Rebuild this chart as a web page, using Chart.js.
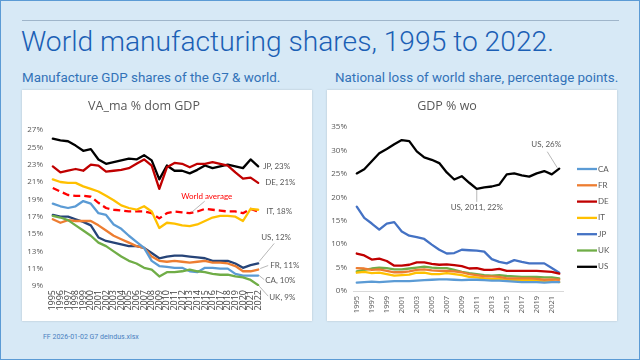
<!DOCTYPE html>
<html>
<head>
<meta charset="utf-8">
<script src="https://cdn.jsdelivr.net/npm/chart.js@4.4.1/dist/chart.umd.min.js"></script>
<style>
  html, body { margin: 0; padding: 0; }
  body { width: 640px; height: 360px; background: #d7e9f6; position: relative; overflow: hidden; font-family: Roboto, sans-serif; }
  .frame { position: absolute; left: 0; top: 0; width: 638px; height: 358px; border: 1px solid #5b9bd5; }
  .rule { position: absolute; left: 22px; top: 20px; width: 597px; height: 1px; background: #9fb5ca; }
  h1 { position: absolute; left: 21px; top: 25px; margin: 0; font-weight: 300; font-size: 28.2px; color: #1b5fb5; white-space: nowrap; }
  .sub { position: absolute; top: 70px; margin: 0; font-size: 13.4px; color: #3272b8; white-space: nowrap; }
  .panel { position: absolute; top: 90px; width: 290px; height: 231px; background: #fff; box-shadow: 0 0 2px rgba(0,0,0,.18); }
  .foot { position: absolute; left: 43px; top: 333px; font-size: 7px; color: #4a7fc0; white-space: nowrap; }
</style>
</head>
<body>
<div class="frame"></div>
<div class="rule"></div>
<h1>World manufacturing shares, 1995 to 2022.</h1>
<p class="sub" style="left:22px">Manufacture GDP shares of the G7 &amp; world.</p>
<p class="sub" style="left:335px">National loss of world share, percentage points.</p>
<div class="panel" style="left:22px"><canvas id="leftChart" width="290" height="231"></canvas></div>
<div class="panel" style="left:327px"><canvas id="rightChart" width="290" height="231"></canvas></div>
<div class="foot">FF 2026-01-02 G7 deindus.xlsx</div>

<script>
// years 1995..2022
const years = ['1995','1996','1997','1998','1999','2000','2001','2002','2003','2004','2005','2006','2007','2008',
               '2009','2010','2011','2012','2013','2014','2015','2016','2017','2018','2019','2020','2021','2022'];

// manufacturing value added, % of domestic GDP
const jpDom = [26.0, 25.8, 25.7, 25.2, 24.6, 24.8, 23.6, 23.1, 23.3, 23.5, 23.7, 23.6, 24.1, 23.5, 21.3, 22.9, 22.3, 22.3, 22.0, 22.4, 22.9, 22.6, 22.8, 23.0, 22.8, 22.6, 23.6, 22.8];
const deDom = [22.8, 22.1, 22.3, 22.5, 22.3, 23.0, 22.9, 22.2, 22.3, 22.4, 22.6, 23.1, 23.6, 22.9, 20.2, 22.7, 23.2, 23.1, 22.7, 23.1, 23.1, 23.3, 23.1, 22.9, 22.1, 21.4, 21.5, 20.9];
const worldDom = [20.3, 19.9, 19.5, 19.4, 19.4, 19.3, 18.6, 18.0, 17.8, 17.7, 17.6, 17.6, 17.6, 17.4, 16.8, 17.4, 17.6, 17.5, 17.4, 17.6, 17.9, 17.8, 17.7, 17.6, 17.6, 17.4, 17.9, 17.6];
const itDom = [21.3, 21.0, 20.9, 20.9, 20.5, 20.2, 19.9, 19.4, 18.9, 18.3, 18.0, 17.8, 18.2, 17.6, 15.7, 16.3, 16.2, 16.0, 15.9, 16.1, 16.5, 16.9, 17.1, 17.1, 17.0, 16.5, 17.9, 17.8];
const usDom = [17.2, 17.0, 17.0, 16.7, 16.4, 16.0, 14.6, 14.2, 14.0, 13.8, 13.6, 13.6, 13.4, 12.8, 12.2, 12.4, 12.5, 12.5, 12.4, 12.3, 12.2, 11.9, 11.9, 11.9, 11.6, 11.1, 11.4, 11.6];
const frDom = [16.7, 16.3, 16.6, 16.5, 16.5, 16.5, 16.0, 15.4, 14.8, 14.4, 14.0, 13.6, 13.4, 12.4, 11.9, 11.8, 11.9, 11.8, 11.7, 11.8, 11.9, 11.7, 11.7, 11.6, 11.3, 10.7, 10.7, 10.9];
const caDom = [18.5, 18.2, 18.0, 18.2, 18.8, 18.5, 17.4, 17.2, 16.1, 15.6, 14.8, 14.1, 13.4, 11.9, 11.3, 11.2, 11.1, 11.1, 10.7, 10.6, 11.1, 11.1, 11.0, 11.0, 10.4, 10.2, 10.2, 10.2];
const ukDom = [17.1, 16.9, 16.6, 16.0, 15.4, 14.8, 14.0, 13.6, 13.0, 12.4, 11.9, 11.6, 11.1, 10.9, 10.1, 10.6, 10.6, 10.7, 10.9, 10.7, 10.6, 10.4, 10.3, 10.3, 10.1, 10.0, 9.7, 9.1];

// share of world manufacturing, %
const caWo = [1.8, 1.9, 2.0, 1.9, 2.0, 2.1, 2.1, 2.1, 2.2, 2.3, 2.4, 2.5, 2.5, 2.4, 2.3, 2.4, 2.4, 2.3, 2.2, 2.2, 2.1, 2.0, 1.9, 1.9, 1.9, 1.8, 1.9, 1.9];
const frWo = [4.9, 4.8, 4.5, 4.6, 4.3, 4.0, 4.0, 4.2, 4.5, 4.6, 4.4, 4.3, 4.3, 4.2, 4.0, 3.6, 3.4, 3.1, 3.1, 3.0, 2.7, 2.7, 2.7, 2.7, 2.6, 2.4, 2.5, 2.4];
const deWo = [8.0, 7.6, 6.7, 6.9, 6.4, 5.4, 5.4, 5.6, 6.1, 6.1, 5.8, 5.6, 5.7, 5.5, 5.3, 4.8, 4.9, 4.5, 4.5, 4.7, 4.3, 4.3, 4.3, 4.3, 4.3, 4.2, 4.1, 3.7];
const itWo = [3.9, 4.1, 3.8, 3.9, 3.6, 3.3, 3.4, 3.5, 3.9, 3.9, 3.6, 3.6, 3.8, 3.6, 3.4, 3.0, 2.9, 2.7, 2.6, 2.6, 2.3, 2.3, 2.3, 2.3, 2.2, 2.0, 2.1, 1.9];
const jpWo = [18.0, 15.6, 14.4, 13.1, 14.4, 14.7, 12.7, 11.8, 11.5, 11.1, 9.9, 8.8, 8.0, 8.1, 8.8, 8.7, 8.6, 8.4, 6.8, 6.2, 5.9, 6.6, 6.2, 5.9, 5.9, 5.9, 4.9, 3.9];
const ukWo = [4.2, 4.5, 4.8, 5.0, 4.9, 4.6, 4.6, 4.8, 5.0, 5.2, 5.0, 4.9, 4.9, 4.5, 4.1, 3.8, 3.6, 3.4, 3.3, 3.4, 3.2, 3.1, 3.0, 3.0, 3.0, 2.9, 2.9, 2.7];
const usWo = [25.1, 26.0, 27.7, 29.4, 30.3, 31.3, 32.2, 32.0, 29.8, 28.5, 28.0, 27.3, 25.3, 23.8, 24.5, 23.1, 21.8, 22.1, 22.3, 22.7, 24.9, 25.1, 24.7, 24.4, 25.1, 25.6, 24.9, 26.1];

const leftTicks = [9, 11, 13, 15, 17, 19, 21, 23, 25, 27];
const rightTicks = [0, 5, 10, 15, 20, 25, 30, 35];

const grey = '#595959';
const tickFont = { family: 'Open Sans', size: 8 };

function line(label, data, color, extra) {
    return Object.assign({ label: label, data: data, borderColor: color, backgroundColor: color,
        borderWidth: 2.3, pointRadius: 0, tension: 0, borderJoinStyle: 'round', borderCapStyle: 'round' }, extra || {});
}

// text next to a data point, optionally with a thin leader line
const pointLabels = {
    id: 'pointLabels',
    afterDatasetsDraw(chart, args, opts) {
        const ctx = chart.ctx;
        const xs = chart.scales.x, ys = chart.scales.y;
        ctx.save();
        ctx.font = '8px Lato';
        ctx.textBaseline = 'middle';
        (opts.items || []).forEach(it => {
            const v = chart.data.datasets[it.ds].data[it.i];
            const px = xs.getPixelForValue(it.i);
            const py = ys.getPixelForValue(v);
            if (it.leader) {
                ctx.strokeStyle = '#a6a6a6';
                ctx.lineWidth = 0.8;
                ctx.beginPath();
                ctx.moveTo(px + it.leader[0], py + it.leader[1]);
                ctx.lineTo(px + it.leader[2], py + it.leader[3]);
                ctx.stroke();
            }
            ctx.fillStyle = it.color || grey;
            ctx.textAlign = it.align || 'left';
            const txt = typeof it.text === 'function' ? it.text(v) : it.text;
            ctx.fillText(txt, px + it.dx, py + it.dy);
        });
        ctx.restore();
    }
};

// legend with short line samples, like the spreadsheet one
const lineLegend = {
    id: 'lineLegend',
    afterDraw(chart) {
        const ctx = chart.ctx;
        const area = chart.chartArea;
        const x0 = area.right + 14;
        let y = area.top + 42;
        ctx.save();
        ctx.font = '8px Lato';
        ctx.textBaseline = 'middle';
        ctx.textAlign = 'left';
        chart.data.datasets.forEach(ds => {
            ctx.strokeStyle = ds.borderColor;
            ctx.lineWidth = 2.3;
            ctx.beginPath();
            ctx.moveTo(x0, y);
            ctx.lineTo(x0 + 20, y);
            ctx.stroke();
            ctx.fillStyle = grey;
            ctx.fillText(ds.label, x0 + 21, y);
            y += 16.3;
        });
        ctx.restore();
    }
};

const pct = v => v + '%';

new Chart(document.getElementById('leftChart'), {
    type: 'line',
    data: {
        labels: years,
        datasets: [
            line('UK', ukDom, '#70ad47'),
            line('CA', caDom, '#5b9bd5'),
            line('FR', frDom, '#ed7d31'),
            line('US', usDom, '#264478'),
            line('IT', itDom, '#ffc000'),
            line('World average', worldDom, '#ff0000', { borderDash: [7, 4], borderCapStyle: 'butt' }),
            line('DE', deDom, '#c00000'),
            line('JP', jpDom, '#000000')
        ]
    },
    options: {
        responsive: false,
        animation: false,
        layout: { padding: { left: 4, right: 50, top: 0, bottom: 4 } },
        scales: {
            x: {
                offset: true,
                grid: { display: false, drawTicks: false },
                border: { display: false },
                ticks: { autoSkip: false, minRotation: 90, maxRotation: 90, padding: 4, color: '#404040',
                         font: { family: 'Open Sans', size: 9 } },
                afterFit: s => { s.height = 31; }
            },
            y: {
                min: 9, max: 27,
                afterBuildTicks: s => { s.ticks = leftTicks.map(v => ({ value: v })); },
                grid: { display: false, drawTicks: false },
                border: { display: false },
                ticks: { callback: pct, padding: 6, color: grey, font: tickFont },
                afterFit: s => { s.width = 23; }
            }
        },
        plugins: {
            legend: { display: false },
            tooltip: { enabled: false },
            title: { display: true, text: 'VA_ma % dom GDP', color: grey,
                     font: { family: 'Open Sans', size: 12.5, weight: 'normal' },
                     padding: { top: 9, bottom: 16 } },
            pointLabels: {
                items: [
                    { ds: 7, i: 27, dx: 5, dy: 0, text: v => 'JP, ' + Math.round(v) + '%' },
                    { ds: 6, i: 27, dx: 7, dy: 0, text: v => 'DE, ' + Math.round(v) + '%' },
                    { ds: 4, i: 27, dx: 8, dy: 2, text: v => 'IT, ' + Math.round(v) + '%' },
                    { ds: 3, i: 27, dx: 3, dy: -26, text: v => 'US, ' + Math.round(v) + '%', leader: [1, -2, 16, -20] },
                    { ds: 2, i: 27, dx: 12, dy: -4, text: v => 'FR, ' + Math.round(v) + '%', leader: [2, -1, 10, -4] },
                    { ds: 1, i: 27, dx: 7, dy: 5, text: v => 'CA, ' + Math.round(v) + '%', leader: [1, 0, 6, 4] },
                    { ds: 0, i: 27, dx: 11, dy: 12, text: v => 'UK, ' + Math.round(v) + '%', leader: [1, 1, 10, 11] },
                    { ds: 5, i: 18, dx: 17, dy: -17, color: '#ff0000', align: 'center', text: 'World average',
                      leader: [2, -1, 15, -12] }
                ]
            }
        }
    },
    plugins: [pointLabels]
});

new Chart(document.getElementById('rightChart'), {
    type: 'line',
    data: {
        labels: years,
        datasets: [
            line('CA', caWo, '#5b9bd5'),
            line('FR', frWo, '#ed7d31'),
            line('DE', deWo, '#c00000'),
            line('IT', itWo, '#ffc000'),
            line('JP', jpWo, '#4472c4'),
            line('UK', ukWo, '#70ad47'),
            line('US', usWo, '#000000')
        ]
    },
    options: {
        responsive: false,
        animation: false,
        layout: { padding: { left: 4, right: 54, top: 0, bottom: 8 } },
        scales: {
            x: {
                offset: true,
                grid: { display: false, drawTicks: false },
                border: { display: true, color: '#d9d9d9' },
                ticks: { autoSkip: false, minRotation: 90, maxRotation: 90, padding: 5, color: grey,
                         font: { family: 'Open Sans', size: 7.5 },
                         callback: (v, i) => (i % 2 === 0 ? years[i] : '') },
                afterFit: s => { s.height = 22; }
            },
            y: {
                min: 0, max: 35,
                afterBuildTicks: s => { s.ticks = rightTicks.map(v => ({ value: v })); },
                grid: { display: false, drawTicks: false },
                border: { display: false },
                ticks: { callback: pct, padding: 6, color: grey, font: tickFont },
                afterFit: s => { s.width = 22; }
            }
        },
        plugins: {
            legend: { display: false },
            tooltip: { enabled: false },
            title: { display: true, text: 'GDP % wo', color: grey,
                     font: { family: 'Open Sans', size: 12.5, weight: 'normal' },
                     padding: { top: 9, bottom: 13 } },
            pointLabels: {
                items: [
                    { ds: 6, i: 27, dx: -13, dy: -24, align: 'center', text: v => 'US, ' + Math.round(v) + '%',
                      leader: [-2, -1, -12, -17] },
                    { ds: 6, i: 16, dx: 0, dy: 19, align: 'center', text: v => 'US, 2011, ' + Math.round(v) + '%',
                      leader: [0, 1, 0, 13] }
                ]
            }
        }
    },
    plugins: [pointLabels, lineLegend]
});
</script>
</body>
</html>
